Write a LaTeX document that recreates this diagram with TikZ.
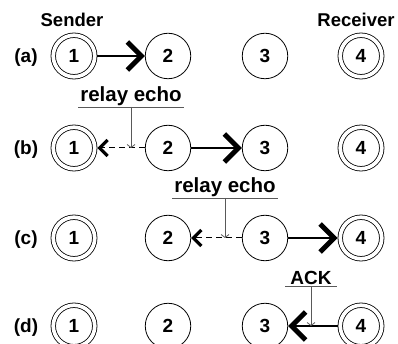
\documentclass[tikz,border=0pt]{standalone}
\usepackage{fontspec}
\setmainfont{Liberation Sans}
\usepackage{tikz}
\usetikzlibrary{arrows.meta,positioning,calc}

\begin{document}
\begin{tikzpicture}[
    x=1pt, y=-1pt,
    hop/.style={circle, draw, line width=0.8pt, minimum size=45.5pt, inner sep=0pt, font=\fontsize{19}{21}\selectfont\bfseries},
    endpoint/.style={circle, draw, double, double distance=3.7pt, line width=0.8pt, minimum size=41.5pt, inner sep=0pt, outer sep=2.6pt, font=\fontsize{19}{21}\selectfont\bfseries},
    tag/.style={text height=13.6pt, text depth=0pt, font=\fontsize{19}{21}\selectfont\bfseries},
    role/.style={font=\fontsize{18.5}{20}\selectfont\bfseries},
    echo/.style={anchor=south, inner xsep=2pt, inner ysep=1.5pt, font=\fontsize{20.5}{22}\selectfont\bfseries},
    forward/.style={-{Straight Barb[length=14pt, width=28pt, line width=5pt]}, line width=2pt},
    echoback/.style={-{Straight Barb[length=8pt, width=16pt, line width=3.2pt]}, line width=1pt, dash pattern=on 6pt off 4pt},
    pointer/.style={-{Straight Barb[length=3pt, width=8pt, line width=0.8pt]}, line width=0.8pt, draw=black!65},
    underline/.style={line width=0.8pt, draw=black!65}
]
    \useasboundingbox (0,0) rectangle (398,344);

    \node[role] (sender) at (72,20) {Sender};
    \node[role] (receiver) at (356,20) {Receiver};

    % row (a)
    \node[tag] (ta) at (26,56) {(a)};
    \node[endpoint] (a1) at (74,56) {1};
    \node[hop] (a2) at (168,56) {2};
    \node[hop] (a3) at (265,56) {3};
    \node[endpoint] (a4) at (361,56) {4};
    \draw[forward] (a1) -- (a2);

    % row (b)
    \node[tag] (tb) at (26,148) {(b)};
    \node[endpoint] (b1) at (74,148) {1};
    \node[hop] (b2) at (168,148) {2};
    \node[hop] (b3) at (265,148) {3};
    \node[endpoint] (b4) at (361,148) {4};
    \draw[forward] (b2) -- (b3);
    \draw[echoback] (b2) -- (b1);
    \node[echo] (echob) at (131,107) {relay echo};
    \draw[underline] (echob.south west) -- (echob.south east);
    \draw[pointer] (echob.south) -- (echob.south |- b2);

    % row (c)
    \node[tag] (tc) at (26,238) {(c)};
    \node[endpoint] (c1) at (74,238) {1};
    \node[hop] (c2) at (168,238) {2};
    \node[hop] (c3) at (265,238) {3};
    \node[endpoint] (c4) at (361,238) {4};
    \draw[forward] (c3) -- (c4);
    \draw[echoback] (c3) -- (c2);
    \node[echo] (echoc) at (225,198) {relay echo};
    \draw[underline] (echoc.south west) -- (echoc.south east);
    \draw[pointer] (echoc.south) -- (echoc.south |- c3);

    % row (d)
    \node[tag] (td) at (26,326) {(d)};
    \node[endpoint] (d1) at (74,326) {1};
    \node[hop] (d2) at (168,326) {2};
    \node[hop] (d3) at (265,326) {3};
    \node[endpoint] (d4) at (361,326) {4};
    \draw[forward] (d4) -- (d3);
    \node[echo, font=\fontsize{19}{21}\selectfont\bfseries, inner xsep=5pt] (ack) at (311,286) {ACK};
    \draw[underline] (ack.south west) -- (ack.south east);
    \draw[pointer] (ack.south) -- (ack.south |- d4);
\end{tikzpicture}
\end{document}
